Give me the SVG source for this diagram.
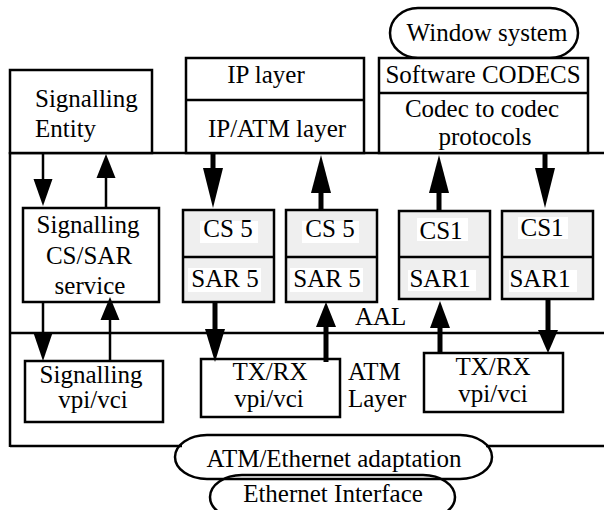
<svg xmlns="http://www.w3.org/2000/svg" width="604" height="510" viewBox="0 0 604 510" font-family="'Liberation Serif', 'Times New Roman', Times, 'DejaVu Serif', serif">
<style>
text{font-family:'Liberation Serif','Times New Roman',Times,'DejaVu Serif',serif;font-size:25px;fill:#000}
.m{text-anchor:middle}
.b{fill:#fff;stroke:#000;stroke-width:2.5}
.g{fill:#efefef;stroke:#000;stroke-width:2.5}
.l{stroke:#000;stroke-width:2.5;fill:none}
.tn{stroke:#000;stroke-width:2.5;fill:none}
.tk{stroke:#000;stroke-width:5;fill:none}
.h{fill:#000;stroke:none}
.wb{fill:#fff}
</style>
<rect width="604" height="510" fill="#fff"/>
<g id="frame">
<line class="l" x1="10" y1="153" x2="604" y2="153"/>
<line class="l" x1="10" y1="333" x2="604" y2="333"/>
<line class="l" x1="10" y1="152" x2="10" y2="447"/>
<line class="l" x1="10" y1="446" x2="182" y2="446"/>
<line class="l" x1="486" y1="446" x2="604" y2="446"/>
<text x="355" y="325">AAL</text>
<text x="348" y="380">ATM</text>
<text x="348" y="407">Layer</text>
</g>
<g id="signalling-entity">
<rect class="b" x="10" y="70" width="142" height="83"/>
<text x="35" y="107">Signalling</text>
<text x="35" y="137">Entity</text>
</g>
<g id="ip-stack">
<rect class="b" x="186" y="58" width="178" height="95"/>
<line class="l" x1="186" y1="100" x2="364" y2="100"/>
<text class="m" x="266" y="83">IP layer</text>
<text class="m" x="277" y="137">IP/ATM layer</text>
</g>
<g id="window-system">
<rect class="b" x="390" y="8" width="188" height="50" rx="28" ry="25"/>
<text class="m" x="487" y="41">Window system</text>
</g>
<g id="codecs">
<rect class="b" x="379" y="58" width="209" height="95"/>
<line class="l" x1="379" y1="93" x2="588" y2="93"/>
<text class="m" x="483" y="83">Software CODECS</text>
<text class="m" x="482" y="117">Codec to codec</text>
<text class="m" x="485" y="145">protocols</text>
</g>
<g id="signalling-cs-sar">
<rect class="b" x="23" y="208" width="136" height="94"/>
<text class="m" x="88" y="233">Signalling</text>
<text class="m" x="89" y="264">CS/SAR</text>
<text class="m" x="90" y="294">service</text>
</g>
<g id="cs5-a">
<rect class="g" x="183" y="210" width="91" height="92"/>
<line class="l" x1="183" y1="257" x2="274" y2="257"/>
<rect class="wb" x="200" y="221" width="58" height="22"/>
<rect class="wb" x="188" y="268" width="73" height="24"/>
<text class="m" x="228" y="237">CS 5</text>
<text class="m" x="225" y="287">SAR 5</text>
</g>
<g id="cs5-b">
<rect class="g" x="286" y="210" width="91" height="92"/>
<line class="l" x1="286" y1="257" x2="377" y2="257"/>
<rect class="wb" x="302" y="221" width="57" height="22"/>
<rect class="wb" x="290" y="268" width="73" height="24"/>
<text class="m" x="330" y="237">CS 5</text>
<text class="m" x="327" y="287">SAR 5</text>
</g>
<g id="cs1-a">
<rect class="g" x="399" y="211" width="91" height="88"/>
<line class="l" x1="399" y1="257" x2="490" y2="257"/>
<rect class="wb" x="417" y="218" width="51" height="23"/>
<rect class="wb" x="408" y="270" width="68" height="21"/>
<text class="m" x="441" y="239">CS1</text>
<text class="m" x="440" y="287">SAR1</text>
</g>
<g id="cs1-b">
<rect class="g" x="502" y="211" width="91" height="88"/>
<line class="l" x1="502" y1="257" x2="593" y2="257"/>
<rect class="wb" x="518" y="217" width="50" height="22"/>
<rect class="wb" x="509" y="270" width="68" height="22"/>
<text class="m" x="542" y="236">CS1</text>
<text class="m" x="540" y="287">SAR1</text>
</g>
<g id="signalling-vpi">
<rect class="b" x="25" y="361" width="138" height="61"/>
<text class="m" x="91" y="383">Signalling</text>
<text class="m" x="93" y="408">vpi/vci</text>
</g>
<g id="txrx-a">
<rect class="b" x="201" y="359" width="139" height="58"/>
<text class="m" x="270" y="380">TX/RX</text>
<text class="m" x="269" y="407">vpi/vci</text>
</g>
<g id="txrx-b">
<rect class="b" x="424" y="353" width="139" height="59"/>
<text class="m" x="493" y="375">TX/RX</text>
<text class="m" x="493" y="402">vpi/vci</text>
</g>
<g id="atm-ethernet">
<rect class="l" x="175" y="435" width="317" height="44" rx="32" ry="22"/>
<text class="m" x="334" y="467">ATM/Ethernet adaptation</text>
</g>
<g id="ethernet-interface">
<rect class="l" x="210" y="475" width="245" height="44" rx="32" ry="22"/>
<text class="m" x="333" y="502">Ethernet Interface</text>
</g>
<g id="connectors">
<line class="tn" x1="43" y1="153" x2="43" y2="182"/>
<polygon class="h" points="33.5,179 52.5,179 43,206"/>
<line class="tn" x1="106" y1="208" x2="106" y2="175"/>
<polygon class="h" points="96.5,178 115.5,178 106,154"/>
<line class="tn" x1="43" y1="302" x2="43" y2="336"/>
<polygon class="h" points="33.5,333 52.5,333 43,361"/>
<line class="tn" x1="110" y1="361" x2="110" y2="318"/>
<polygon class="h" points="100.5,320 119.5,320 110,297"/>
<line class="tk" x1="213" y1="153" x2="213" y2="171"/>
<polygon class="h" points="203,168 223,168 213,208"/>
<line class="tk" x1="321" y1="210" x2="321" y2="190"/>
<polygon class="h" points="311,193 331,193 321,155"/>
<line class="tk" x1="439" y1="211" x2="439" y2="190"/>
<polygon class="h" points="429,193 449,193 439,155"/>
<line class="tk" x1="545" y1="153" x2="545" y2="171"/>
<polygon class="h" points="535,168 555,168 545,208"/>
<line class="tk" x1="215" y1="302" x2="215" y2="332"/>
<polygon class="h" points="205,329 225,329 215,362"/>
<line class="tk" x1="326" y1="362" x2="326" y2="324"/>
<polygon class="h" points="316,327 336,327 326,302"/>
<line class="tk" x1="440" y1="353" x2="440" y2="325"/>
<polygon class="h" points="430,328 450,328 440,301"/>
<line class="tk" x1="548" y1="299" x2="548" y2="333"/>
<polygon class="h" points="538,330 558,330 548,353"/>
</g>
</svg>
